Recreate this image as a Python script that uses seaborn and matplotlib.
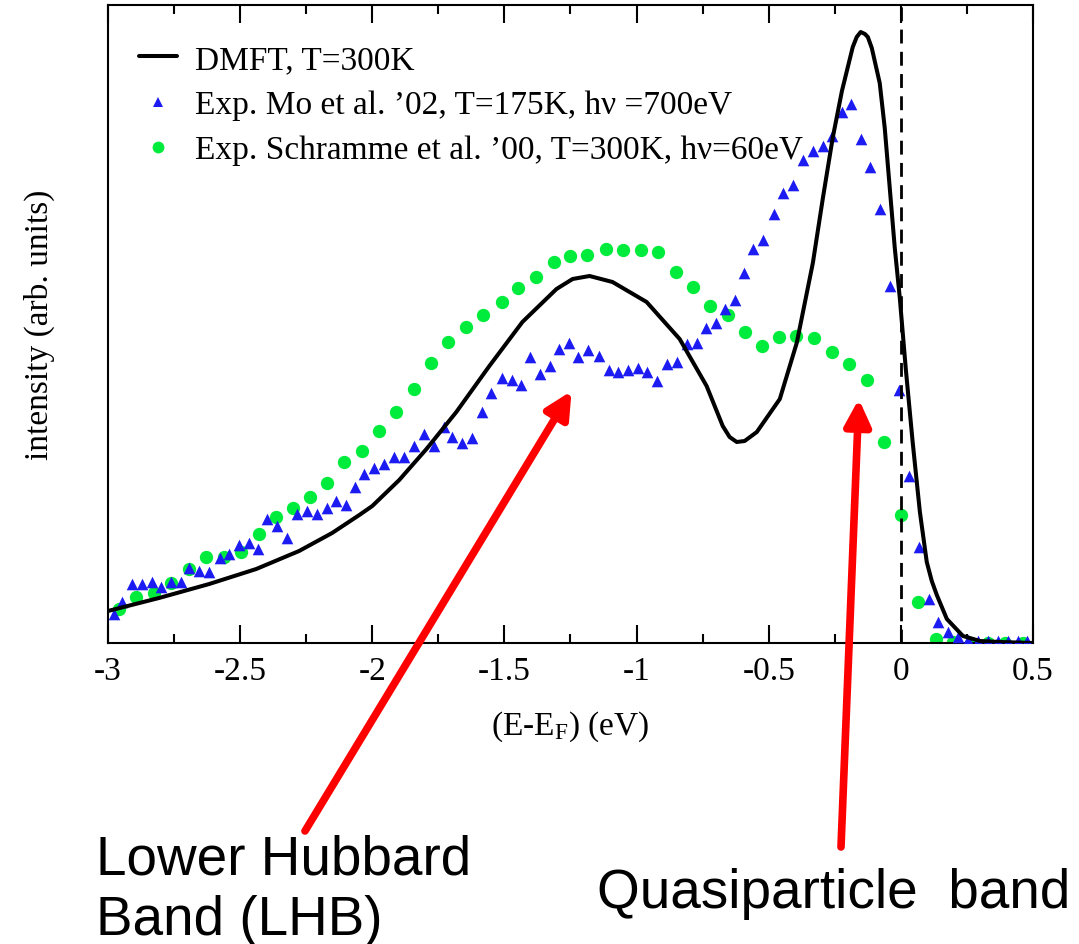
import matplotlib
matplotlib.use("Agg")
import matplotlib.pyplot as plt
import seaborn as sns
import pandas as pd
from matplotlib.ticker import FixedLocator, FixedFormatter
from matplotlib.lines import Line2D

# ---------------- data ----------------
dmft_E = [-3.000, -2.807, -2.617, -2.439, -2.277, -2.152, -2.049, -2.000, -1.898,
          -1.795, -1.682, -1.557, -1.432, -1.303, -1.242, -1.178, -1.091, -0.962,
          -0.837, -0.735, -0.674, -0.648, -0.621, -0.591, -0.545, -0.458, -0.394,
          -0.333, -0.295, -0.258, -0.223, -0.182, -0.167, -0.152, -0.136, -0.125,
          -0.110, -0.080, -0.061, -0.042, -0.023, -0.004, 0.019, 0.045, 0.072,
          0.098, 0.117, 0.136, 0.174, 0.235, 0.299, 0.375, 0.500]
dmft_I = [32, 45, 59, 74, 92, 110, 128, 137, 163,
          194, 231, 277, 321, 354, 364, 367, 361, 341,
          304, 257, 217, 206, 201, 202, 211, 244, 300,
          380, 445, 505, 552, 596, 606, 611, 609, 606,
          595, 560, 515, 455, 395, 345, 273, 200, 131,
          81, 62, 48, 24, 7, 2, 1, 0]

mo_E = [-2.977, -2.947, -2.909, -2.871, -2.833, -2.799, -2.761, -2.723, -2.693, -2.655,
        -2.617, -2.576, -2.542, -2.504, -2.466, -2.432, -2.398, -2.360, -2.322, -2.284,
        -2.246, -2.208, -2.170, -2.136, -2.098, -2.064, -2.030, -1.992, -1.955, -1.917,
        -1.879, -1.841, -1.803, -1.765, -1.727, -1.697, -1.659, -1.621, -1.583, -1.549,
        -1.511, -1.473, -1.439, -1.402, -1.364, -1.326, -1.292, -1.254, -1.220, -1.182,
        -1.144, -1.106, -1.072, -1.034, -0.996, -0.962, -0.924, -0.886, -0.848, -0.811,
        -0.773, -0.739, -0.701, -0.667, -0.629, -0.595, -0.561, -0.523, -0.481, -0.447,
        -0.409, -0.371, -0.333, -0.295, -0.261, -0.223, -0.189, -0.152, -0.117, -0.080,
        -0.042, -0.008, 0.030, 0.068, 0.106, 0.140, 0.178, 0.216, 0.254, 0.292,
        0.330, 0.367, 0.405, 0.443, 0.477]
mo_I = [29, 41, 59, 59, 61, 56, 61, 61, 75, 72,
        71, 85, 89, 98, 100, 94, 124, 117, 105, 129,
        132, 129, 135, 142, 138, 156, 169, 175, 179, 186,
        186, 197, 209, 197, 216, 206, 200, 205, 231, 250,
        265, 263, 258, 286, 269, 277, 294, 300, 286, 293,
        287, 273, 271, 273, 275, 271, 262, 279, 281, 299,
        300, 315, 320, 334, 343, 370, 394, 403, 429, 450,
        458, 483, 492, 497, 507, 531, 539, 504, 476, 434,
        357, 253, 167, 96, 44, 21, 11, 6, 3, 2,
        2, 2, 2, 2, 2]

sch_E = [-2.958, -2.894, -2.826, -2.761, -2.693, -2.629, -2.561, -2.496, -2.428, -2.364,
         -2.299, -2.235, -2.170, -2.106, -2.038, -1.973, -1.909, -1.841, -1.777, -1.712,
         -1.644, -1.580, -1.511, -1.447, -1.379, -1.314, -1.250, -1.186, -1.117, -1.053,
         -0.985, -0.920, -0.852, -0.788, -0.723, -0.655, -0.591, -0.527, -0.462, -0.398,
         -0.330, -0.261, -0.197, -0.129, -0.064, 0.000, 0.064, 0.133, 0.197, 0.265,
         0.330, 0.394, 0.462]
sch_I = [34, 46, 50, 60, 74, 86, 86, 91, 109, 126,
         135, 146, 160, 181, 192, 212, 231, 254, 280, 301,
         316, 328, 341, 355, 366, 381, 387, 388, 394, 393,
         393, 391, 371, 356, 337, 328, 311, 297, 306, 307,
         305, 291, 279, 263, 201, 128, 41, 4, 1, 0,
         0, 0, 0]

x_ticks = [-3, -2.5, -2, -1.5, -1, -0.5, 0, 0.5]
x_tick_labels = ["-3", "-2.5", "-2", "-1.5", "-1", "-0.5", "0", "0.5"]
x_minor = [-2.75, -2.25, -1.75, -1.25, -0.75, -0.25, 0.25]

labels = ["DMFT, T=300K",
          "Exp. Mo et al. \u201902, T=175K, h\u03bd =700eV",
          "Exp. Schramme et al. \u201900, T=300K, h\u03bd=60eV"]

lhb_tip = (-1.246, 252)
qp_tip = (-0.159, 244)

# ---------------- style ----------------
sns.set_theme(style="ticks")
plt.rcParams["font.family"] = ["Liberation Serif", "DejaVu Serif"]
plt.rcParams["axes.unicode_minus"] = False
plt.rcParams["mathtext.default"] = "regular"
plt.rcParams["text.color"] = "black"
plt.rcParams["axes.labelcolor"] = "black"
plt.rcParams["xtick.color"] = "black"

BLUE = "#1c1cf2"
GREEN = "#00ec3c"

fig = plt.figure(figsize=(10.79, 9.45), dpi=100)
ax = fig.add_axes([0.10009, 0.31852, 0.85728, 0.67513])

df_d = pd.DataFrame({"E": dmft_E, "I": dmft_I})
df_m = pd.DataFrame({"E": mo_E, "I": mo_I})
df_s = pd.DataFrame({"E": sch_E, "I": sch_I})

sns.scatterplot(data=df_s, x="E", y="I", ax=ax, marker="o", s=92, color=GREEN,
                linewidth=0, zorder=2, legend=False)
sns.scatterplot(data=df_m, x="E", y="I", ax=ax, marker="^", s=70, color=BLUE,
                linewidth=0, zorder=3, legend=False)
sns.lineplot(data=df_d, x="E", y="I", ax=ax, color="black", lw=2.9, zorder=4,
             sort=False, legend=False)
ax.lines[-1].set_solid_joinstyle("round")
ax.axvline(0, color="black", lw=2.0, ls=(0, (5, 3)), zorder=5)

ax.set_xlim(-3, 0.5)
ax.set_ylim(0, 638)

ax.xaxis.set_major_locator(FixedLocator(x_ticks))
ax.xaxis.set_major_formatter(FixedFormatter(x_tick_labels))
ax.xaxis.set_minor_locator(FixedLocator(x_minor))
ax.tick_params(axis="x", which="major", direction="in", length=13, width=1.5,
               top=True, bottom=True, labelsize=24, pad=9, colors="black")
ax.tick_params(axis="x", which="minor", direction="in", length=6.5, width=1.5,
               top=True, bottom=True)
ax.tick_params(axis="y", which="both", left=False, right=False, labelleft=False)
for sp in ax.spines.values():
    sp.set_linewidth(1.5)
    sp.set_color("black")
    sp.set_visible(True)

ax.set_xlabel("(E-E$_{F}$) (eV)", fontsize=24, labelpad=16)
ax.set_ylabel("intensity (arb. units)", fontsize=24, labelpad=38)

handles = [Line2D([], [], color="black", lw=2.9),
           Line2D([], [], color=BLUE, marker="^", ls="none", ms=7, mew=0),
           Line2D([], [], color=GREEN, marker="o", ls="none", ms=8.5, mew=0)]
ax.legend(handles, labels, loc="upper left", bbox_to_anchor=(0.033, 0.938),
          frameon=False, fontsize=24, borderpad=0, borderaxespad=0,
          labelspacing=0.44, handlelength=1.15, handletextpad=0.55)

# ---------------- annotations ----------------
sans = ["Liberation Sans", "DejaVu Sans"]
arrow = dict(arrowstyle="-|>,head_length=1.3,head_width=0.65", color="#ff0000",
             lw=5.5, shrinkA=0, shrinkB=0, mutation_scale=12)
ax.annotate("", xy=lhb_tip, xycoords="data", xytext=(305 / 1079, 1 - 832 / 945),
            textcoords="figure fraction", arrowprops=arrow, annotation_clip=False)
ax.annotate("", xy=qp_tip, xycoords="data", xytext=(841 / 1079, 1 - 848 / 945),
            textcoords="figure fraction", arrowprops=arrow, annotation_clip=False)

fig.text(96 / 1079, 1 - 875 / 945, "Lower Hubbard", family=sans, fontsize=39.5,
         va="baseline", ha="left", color="black")
fig.text(96 / 1079, 1 - 935 / 945, "Band (LHB)", family=sans, fontsize=39.5,
         va="baseline", ha="left", color="black")
fig.text(597 / 1079, 1 - 908 / 945, "Quasiparticle  band", family=sans, fontsize=39.5,
         va="baseline", ha="left", color="black")

fig.savefig("out.png", dpi=100)
